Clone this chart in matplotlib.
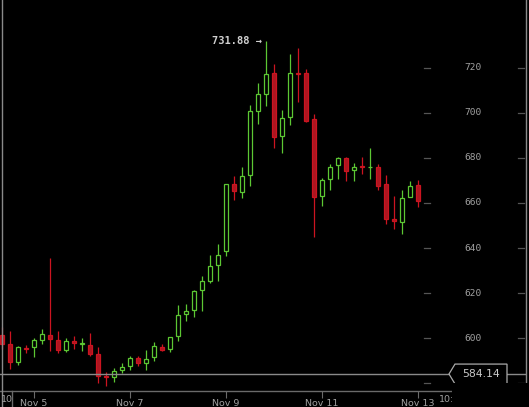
import pandas as pd
import matplotlib
matplotlib.use('Agg')
import matplotlib.pyplot as plt
import matplotlib.dates as mdates
from matplotlib.patches import Rectangle, Polygon
from matplotlib.lines import Line2D

# 4h candles, Nov 4 08:00 .. Nov 13 00:00
times = pd.date_range('2013-11-04 08:00', periods=53, freq='4h')
opens = [601.3, 597.3, 589.5, 595.7, 595.9, 599.2, 601.6, 599.1, 595.0, 598.7,
         597.5, 597.0, 592.8, 583.2, 583.0, 586.1, 587.9, 591.4, 588.9, 591.8,
         596.0, 595.1, 600.9, 610.6, 612.4, 621.3, 625.5, 632.6, 638.6, 668.3,
         664.7, 672.3, 700.9, 708.2, 717.5, 689.6, 698.0, 717.5, 717.5, 697.1,
         663.0, 670.5, 676.7, 679.8, 674.5, 676.2, 675.8, 675.8, 668.3, 652.8,
         651.4, 662.5, 667.9]
highs = [604.8, 603.1, 596.4, 597.2, 600.0, 604.1, 635.6, 603.2, 600.3, 600.9,
         600.3, 602.2, 596.0, 585.0, 586.7, 588.9, 592.0, 592.0, 594.8, 598.4,
         597.5, 600.4, 614.8, 615.2, 621.4, 627.6, 636.9, 641.6, 668.3, 672.0,
         675.8, 703.5, 713.1, 731.88, 721.5, 701.1, 726.1, 728.7, 719.4, 699.3,
         671.0, 677.3, 680.4, 680.4, 677.6, 680.4, 684.4, 677.3, 672.3, 663.0,
         665.6, 669.9, 670.2]
lows = [595.1, 586.4, 588.1, 593.5, 591.7, 597.5, 594.4, 593.5, 593.9, 595.1,
        594.4, 592.1, 580.1, 579.0, 580.6, 584.6, 586.1, 587.7, 586.1, 590.1,
        594.4, 594.1, 598.9, 607.8, 609.6, 612.2, 624.7, 625.5, 636.6, 661.5,
        662.4, 667.7, 694.9, 703.1, 684.5, 682.3, 694.7, 704.9, 696.1, 645.1,
        658.8, 665.9, 670.8, 669.9, 669.9, 673.0, 670.8, 665.9, 650.8, 648.6,
        646.4, 662.5, 658.4]
closes = [597.6, 589.5, 595.9, 595.2, 599.0, 602.1, 599.7, 595.0, 598.7, 597.9,
          597.8, 593.2, 583.4, 582.8, 585.5, 587.4, 591.4, 588.8, 590.9, 596.5,
          594.9, 600.4, 610.2, 612.0, 620.8, 625.3, 631.9, 637.1, 668.3, 665.5,
          671.8, 700.7, 708.2, 717.1, 689.1, 697.6, 717.5, 717.2, 696.5, 662.8,
          670.1, 675.8, 679.8, 674.1, 675.8, 676.0, 676.0, 667.7, 652.8, 651.9,
          662.1, 667.7, 660.8]
y_ticks = [580, 600, 620, 640, 660, 680, 700, 720]
x_ticks = ['2013-11-05', '2013-11-07', '2013-11-09', '2013-11-11', '2013-11-13']
x_labels = ['Nov 5', 'Nov 7', 'Nov 9', 'Nov 11', 'Nov 13']
max_price = 731.88
last_price = 584.14

green = '#5cc733'
red_edge = '#cc1420'
red_fill = '#ac1620'
grey = '#a0a0a0'

W, H = 529, 407
fig = plt.figure(figsize=(W / 100, H / 100), dpi=100, facecolor='black')
ax = fig.add_axes([0, 16 / H, 1, 391 / H], facecolor='black')

x = mdates.date2num(times)
w = 4 / 24 * 0.6
for xi, o, h, l, c in zip(x, opens, highs, lows, closes):
    up = c >= o
    col = green if up else red_edge
    ax.vlines(xi, l, h, color=col, linewidth=0.9, zorder=2)
    ax.bar(xi, max(abs(c - o), 0.05), width=w, bottom=min(o, c), align='center',
           facecolor='black' if up else red_fill, edgecolor=col, linewidth=0.9, zorder=3)

ax.set_xlim(mdates.date2num(pd.Timestamp('2013-11-04 07:00')),
            mdates.date2num(pd.Timestamp('2013-11-15 07:30')))
ax.set_ylim(576.6, 750.0)

for s in ['top', 'right', 'left']:
    ax.spines[s].set_visible(False)
ax.spines['bottom'].set_color('#6a6a6a')
ax.spines['bottom'].set_linewidth(1)

ax.set_xticks(mdates.date2num(pd.to_datetime(x_ticks)))
ax.set_xticklabels(x_labels)
ax.tick_params(axis='x', direction='out', length=5, color='#6a6a6a', labelcolor=grey,
               labelsize=6.8, pad=1)
ax.set_yticks([])

# price scale drawn inside the plot on the right
ty = ax.get_yaxis_transform()
for v in y_ticks:
    ax.text(473 / W, v, str(v), transform=ty, ha='center', va='center', color=grey,
            fontsize=6.8, family='DejaVu Sans Mono')
    ax.plot([424 / W, 430 / W], [v, v], transform=ty, color='#555555', lw=0.9)
    ax.plot([518 / W, 524 / W], [v, v], transform=ty, color='#555555', lw=0.9)

# last price line and label
ax.axhline(last_price, xmax=525 / W, color='#8a8a8a', lw=1, zorder=4)
hh = 4.4
ax.add_patch(Polygon([(449 / W, last_price), (455 / W, last_price + hh), (507 / W, last_price + hh),
                      (507 / W, last_price - hh), (455 / W, last_price - hh)],
                     closed=True, transform=ty, facecolor='black', edgecolor='#aaaaaa',
                     lw=0.9, zorder=6))
ax.text(481 / W, last_price, f'{last_price:.2f}', transform=ty, ha='center', va='center',
        color='#c8c8c8', fontsize=7.8, family='DejaVu Sans', zorder=7)

# max marker
imax = highs.index(max_price)
ax.annotate(f'{max_price:.2f} \u2192', xy=(x[imax], max_price), xytext=(-3, 0),
            textcoords='offset points', ha='right', va='center', color='#d0d0d0',
            fontsize=7.5, family='DejaVu Sans Mono', fontweight='bold')

# frame lines
fig.add_artist(Line2D([2.3 / W, 2.3 / W], [0, 1], color='#8a8a8a', lw=1))
fig.add_artist(Line2D([526 / W, 526 / W], [1 - 383 / H, 1], color='#8a8a8a', lw=1))
fig.add_artist(Line2D([12.3 / W, 12.3 / W], [0, 16 / H], color='#6a6a6a', lw=1))
fig.text(0.5 / W, 1 - 400 / H, '10', ha='left', va='center', color=grey, fontsize=6.8)
fig.text(439 / W, 1 - 400 / H, '10:00', ha='left', va='center', color=grey, fontsize=6.8)
fig.add_artist(Rectangle((452 / W, 0), 77 / W, 24 / H, transform=fig.transFigure,
                         facecolor='black', edgecolor='none', zorder=10))

fig.savefig('out.png', dpi=100, facecolor='black')
